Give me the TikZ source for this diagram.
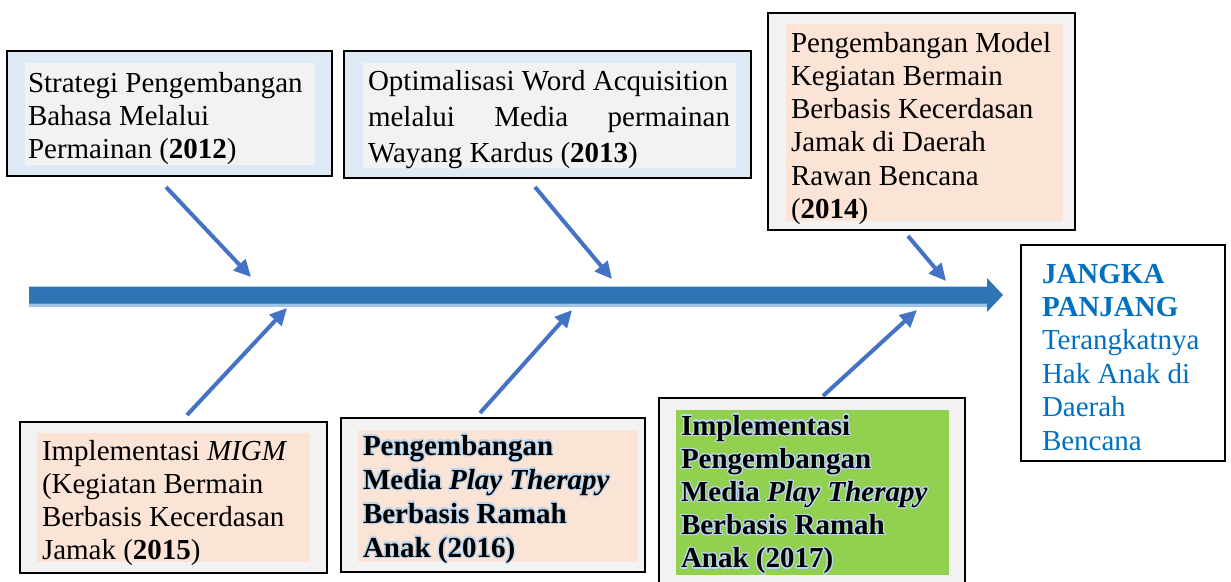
\documentclass[tikz,border=0pt]{standalone}
\usepackage{fontspec}
\setmainfont{Liberation Serif}
\usepackage[copies]{contour}
\usetikzlibrary{arrows.meta}

\definecolor{paleblue}{HTML}{DEEAF6}
\definecolor{panel}{HTML}{F2F2F2}
\definecolor{peach}{HTML}{FBE4D5}
\definecolor{leaf}{HTML}{92D050}
\definecolor{goalblue}{HTML}{0070C0}
\definecolor{spine}{HTML}{2E75B6}
\definecolor{spineshade}{HTML}{9DC3E6}
\definecolor{twig}{HTML}{4472C4}
\definecolor{glow}{HTML}{BDD7EE}

\contourlength{1.2pt}
\contournumber{16}

% first-line strut: fixes the distance from the node top to the first baseline
\newcommand{\firstline}{\rule{0pt}{24pt}}
% glowing word-art lettering
\newcommand{\wa}[1]{\contour{glow}{#1}}

\tikzset{
  frame/.style={draw=black, line width=2.6pt, inner sep=0pt, outer sep=0pt},
  inset/.style={inner sep=0pt, outer sep=0pt},
  caption/.style={anchor=north west, inner sep=0pt, outer sep=0pt, align=left},
  twigarrow/.style={draw=twig, line width=4pt, -{Triangle[length=17pt,width=16pt]}},
}

\begin{document}
\begin{tikzpicture}[x=1pt, y=-1pt]
\clip (0,0) rectangle (1231,581);
\fill[white] (0,0) rectangle (1231,581);

% ---- spine ----
\coordinate (tail) at (29,295);
\coordinate (head) at (1003,295);
\fill[spineshade] (29,303) rectangle (987,306.5);
\fill[spine] (tail) ++(0,-8.5) -- (987,286.5) -- (987,278) -- (head)
  -- (987,312) -- (987,303.5) -- (29,303.5) -- cycle;

% ---- upper boxes ----
\node[frame, fill=paleblue, minimum width=325pt, minimum height=125pt] (b12) at (169.5,113.5) {};
\node[inset, fill=panel, minimum width=290pt, minimum height=102pt] (f12) at (170,114) {};
\node[caption, font=\fontsize{29}{33}\selectfont] (t12) at (28,68)
  {\firstline Strategi Pengembangan\\Bahasa Melalui\\Permainan (\textbf{2012})};

\node[frame, fill=paleblue, minimum width=407pt, minimum height=127pt] (b13) at (547.5,114.5) {};
\node[inset, fill=panel, minimum width=373pt, minimum height=105pt] (f13) at (549.5,115.5) {};
\node[caption, font=\fontsize{29}{36}\selectfont] (t13) at (368,66)
  {\firstline Optimalisasi Word Acquisition\\\hbox to 362pt{melalui\hfill Media\hfill permainan}\\Wayang Kardus (\textbf{2013})};

\node[frame, fill=panel, minimum width=307pt, minimum height=217pt] (b14) at (921.5,121.5) {};
\node[inset, fill=peach, minimum width=277pt, minimum height=197pt] (f14) at (924.5,122.5) {};
\node[caption, font=\fontsize{29}{33.3}\selectfont] (t14) at (791,28)
  {\firstline Pengembangan Model\\Kegiatan Bermain\\Berbasis Kecerdasan\\Jamak di Daerah\\Rawan Bencana\\(\textbf{2014})};

% ---- goal box ----
\node[frame, fill=white, minimum width=204pt, minimum height=216pt] (goal) at (1123,353) {};
\node[caption, text=goalblue, font=\fontsize{29}{33.4}\selectfont] (tg) at (1042,259)
  {\firstline\textbf{JANGKA}\\\textbf{PANJANG}\\Terangkatnya\\Hak Anak di\\Daerah\\Bencana};

% ---- lower boxes ----
\node[frame, fill=panel, minimum width=307pt, minimum height=151pt] (b15) at (173.5,497.5) {};
\node[inset, fill=peach, minimum width=273pt, minimum height=129pt] (f15) at (173.5,497.5) {};
\node[caption, font=\fontsize{29}{33}\selectfont] (t15) at (42,436)
  {\firstline Implementasi \textit{MIGM}\\(Kegiatan Bermain\\Berbasis Kecerdasan\\Jamak (\textbf{2015})};

\node[frame, fill=panel, minimum width=304pt, minimum height=154pt] (b16) at (493,495) {};
\node[inset, fill=peach, minimum width=280pt, minimum height=132pt] (f16) at (498,496) {};
\node[caption, font=\fontsize{29}{34}\selectfont\bfseries] (t16) at (363,431)
  {\firstline\wa{Pengembangan}\\\wa{Media \textit{Play Therapy}}\\\wa{Berbasis Ramah}\\\wa{Anak (2016)}};

\node[frame, fill=panel, minimum width=306pt, minimum height=197pt] (b17) at (812,496.5) {};
\node[inset, fill=leaf, minimum width=273pt, minimum height=165pt] (f17) at (812.5,492.5) {};
\node[caption, font=\fontsize{29}{33.2}\selectfont\bfseries] (t17) at (681,411)
  {\firstline\wa{Implementasi}\\\wa{Pengembangan}\\\wa{Media \textit{Play Therapy}}\\\wa{Berbasis Ramah}\\\wa{Anak (2017)}};

% ---- feeder arrows ----
\coordinate (s12) at (166,187);  \coordinate (e12) at (251,277);
\coordinate (s13) at (535,187);  \coordinate (e13) at (612,279);
\coordinate (s14) at (908,236);  \coordinate (e14) at (946,281);
\coordinate (s15) at (187,415);  \coordinate (e15) at (287,308);
\coordinate (s16) at (480,413);  \coordinate (e16) at (572,310);
\coordinate (s17) at (823,396);  \coordinate (e17) at (917,310);
\foreach \k in {12,13,14,15,16,17}
  \draw[twigarrow] (s\k) -- (e\k);
\end{tikzpicture}
\end{document}
